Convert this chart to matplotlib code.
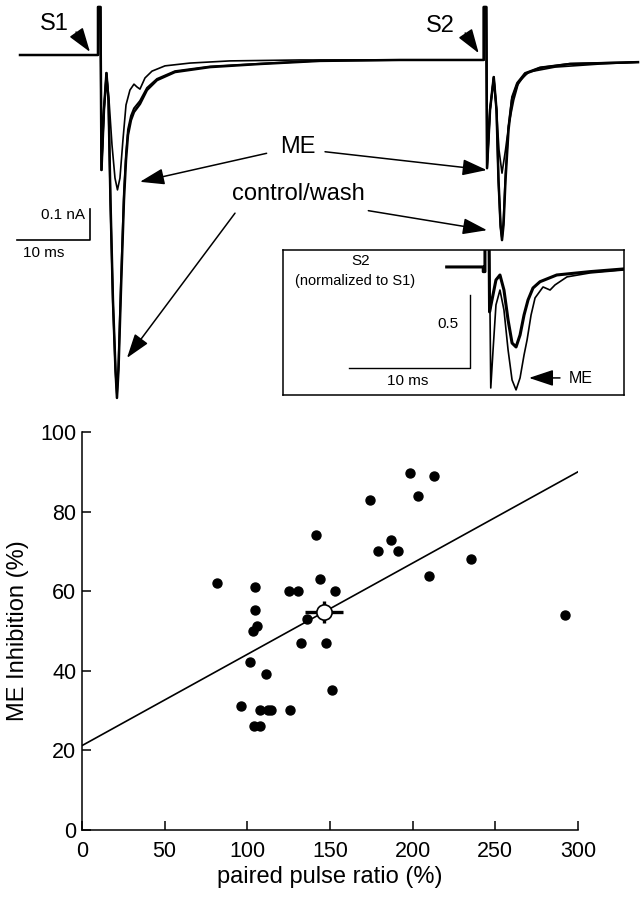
import numpy as np
import matplotlib.pyplot as plt

plt.rcParams['font.family'] = ['Liberation Sans', 'DejaVu Sans']

# ---- scatter: ME inhibition vs paired pulse ratio ----
ppr = [81.5, 96.4, 101.4, 103.2, 104.2, 104.7, 104.7, 105.7, 107.5, 107.7, 111.5,
       112.5, 114.5, 125.8, 125.2, 130.5, 132.5, 136.3, 141.4, 144.0, 147.4, 151.4,
       153.3, 174.0, 179.1, 186.9, 191.2, 198.2, 203.1, 210.1, 213.1, 235.3, 292.2]
inhib = [62.1, 31.2, 42.1, 50.1, 26.1, 61.1, 55.3, 51.3, 30.2, 26.1, 39.1,
         30.2, 30.2, 30.2, 60.1, 60.1, 47.1, 53.1, 74.0, 63.1, 47.1, 35.1,
         60.1, 82.9, 70.0, 72.9, 70.0, 89.8, 83.9, 63.9, 88.9, 68.0, 54.1]
mean_pt = (146.6, 54.8)
mean_err = (11.5, 2.8)
fit_x = [0, 300]
fit_y = [21.2, 90.0]

# ---- sweep traces (ms, pA), S1 at t=0, S2 at ~53 ms ----
t_me = [-10.68, 0, 0, 0.34, 0.48, 0.82, 1.16, 1.51, 1.92, 2.33, 2.67, 3.01, 3.42, 3.84,
        4.38, 4.93, 5.34, 5.75, 6.44, 7.40, 9.18, 12.60, 18.08, 27.67, 41.37, 52.84,
        52.84, 53.19, 53.29, 53.70, 54.21, 54.59, 54.93, 55.34, 55.82, 56.26, 56.95,
        57.63, 59.00, 62.60, 68.77, 73.97]
i_me = [0, 0, 155, 155, -371, -177, -58, -145, -290, -397, -435, -397, -274, -161,
        -113, -94, -103, -110, -74, -52, -35, -26, -19, -16, -16, -16,
        155, 155, -365, -177, -71, -177, -306, -381, -306, -226, -145,
        -87, -55, -39, -29, -23]
t_ctl = [-10.68, 0, 0, 0.34, 0.48, 0.82, 1.16, 1.44, 1.71, 2.05, 2.40, 2.60, 2.81, 3.15,
         3.56, 3.84, 4.11, 4.52, 4.93, 5.75, 6.71, 8.08, 10.55, 15.34, 22.19, 30.41,
         41.37, 52.84, 52.84, 53.19, 53.29, 53.70, 54.21, 54.59, 54.86, 55.14, 55.34,
         55.55, 55.82, 56.23, 56.71, 57.40, 58.49, 60.55, 64.66, 73.97]
i_ctl = [0, 0, 155, 155, -371, -177, -58, -145, -468, -790, -1016, -1106, -1016, -758,
         -468, -339, -258, -210, -184, -158, -113, -81, -55, -39, -29, -19,
         -16, -16, 155, 155, -365, -177, -71, -177, -403, -548, -597,
         -548, -403, -242, -145, -97, -61, -42, -29, -23]
t_wash = t_ctl
i_wash = [0, 0, 155, 155, -371, -177, -58, -150, -480, -800, -1020, -1095, -1000, -730,
          -440, -318, -240, -196, -172, -148, -106, -77, -52, -37, -28, -18,
          -16, -16, 155, 155, -365, -177, -71, -180, -410, -555, -590,
          -535, -385, -228, -135, -90, -58, -40, -28, -23]

# ---- inset: S2 normalized to S1 ----
tn_ctl = [-3.33, -0.31, -0.31, -0.17, -0.17, 0.17, 0.21, 0.41, 0.74, 1.07, 1.40, 1.74,
          2.07, 2.40, 2.73, 3.06, 3.39, 3.80, 4.38, 5.76, 8.51, 11.24]
yn_ctl = [0, 0, -0.032, -0.032, 0.185, 0.185, -0.308, -0.226, -0.089, -0.055, -0.158,
          -0.363, -0.521, -0.548, -0.466, -0.329, -0.226, -0.144, -0.101, -0.055,
          -0.032, -0.014]
tn_me = [-3.33, -0.31, -0.31, -0.17, -0.17, 0.19, 0.31, 0.50, 0.74, 1.07, 1.40, 1.74,
         2.07, 2.40, 2.73, 3.06, 3.31, 3.64, 3.97, 4.63, 5.21, 5.62, 6.61, 8.51, 11.24]
yn_me = [0, 0, -0.032, -0.032, 0.185, 0.185, -0.829, -0.568, -0.260, -0.158, -0.295,
         -0.568, -0.774, -0.842, -0.760, -0.603, -0.500, -0.329, -0.212, -0.137,
         -0.158, -0.123, -0.068, -0.041, -0.021]

fig = plt.figure(figsize=(6.44, 9.0), dpi=100)

arrow = dict(arrowstyle='-|>,head_length=1.5,head_width=0.5', mutation_scale=10,
             lw=1.1, color='black', shrinkA=0, shrinkB=0)

# traces panel
ax_tr = fig.add_axes([0, 0.5444, 1, 0.4556])
ax_tr.set_xlim(-13.42, 74.79)
ax_tr.set_ylim(-1145, 177.4)
ax_tr.axis('off')
ax_tr.plot(t_ctl, i_ctl, color='black', lw=1.8)
ax_tr.plot(t_wash, i_wash, color='black', lw=1.4)
ax_tr.plot(t_me, i_me, color='black', lw=1.2)

ax_tr.text(-6.03, 99, 'S1', fontsize=17, ha='center', va='center')
ax_tr.annotate('', xy=(-1.10, 10), xytext=(-3.0, 74), arrowprops=arrow)
ax_tr.text(46.94, 93, 'S2', fontsize=17, ha='center', va='center')
ax_tr.annotate('', xy=(52.15, 6), xytext=(50.3, 71), arrowprops=arrow)

ax_tr.text(27.33, -297, 'ME', fontsize=17, ha='center', va='center')
ax_tr.annotate('', xy=(5.75, -409), xytext=(23.1, -317), arrowprops=arrow)
ax_tr.annotate('', xy=(53.25, -371), xytext=(31.1, -312), arrowprops=arrow)
ax_tr.text(27.4, -448, 'control/wash', fontsize=17, ha='center', va='center')
ax_tr.annotate('', xy=(3.97, -977), xytext=(18.77, -510), arrowprops=arrow)
ax_tr.annotate('', xy=(53.29, -565), xytext=(37.03, -502), arrowprops=arrow)

# scale bar 0.1 nA / 10 ms
ax_tr.plot([-11.10, -1.10, -1.10], [-597, -597, -497], color='black', lw=1.2)
ax_tr.text(-1.78, -516, '0.1 nA', fontsize=11, ha='right', va='center')
ax_tr.text(-7.42, -639, '10 ms', fontsize=11, ha='center', va='center')

# inset
ax_in = fig.add_axes([0.4394, 0.5611, 0.5303, 0.1611])
ax_in.set_xlim(-16.86, 11.36)
ax_in.set_ylim(-0.877, 0.116)
ax_in.set_xticks([])
ax_in.set_yticks([])
for s in ax_in.spines.values():
    s.set_linewidth(1.1)
ax_in.plot(tn_ctl, yn_ctl, color='black', lw=2.2)
ax_in.plot(tn_me, yn_me, color='black', lw=1.2)
ax_in.plot([-11.40, -1.40, -1.40], [-0.692, -0.692, -0.192], color='black', lw=1.0)
ax_in.text(-2.34, -0.39, '0.5', fontsize=11, ha='right', va='center')
ax_in.text(-6.53, -0.781, '10 ms', fontsize=11, ha='center', va='center')
ax_in.text(-10.4, 0.041, 'S2', fontsize=11, ha='center', va='center')
ax_in.text(-10.87, -0.096, '(normalized to S1)', fontsize=10.5, ha='center', va='center')
ax_in.annotate('', xy=(3.47, -0.76), xytext=(6.03, -0.76), arrowprops=arrow)
ax_in.text(6.75, -0.762, 'ME', fontsize=11.5, ha='left', va='center')

# scatter panel
ax = fig.add_axes([0.1273, 0.0778, 0.7702, 0.4422])
ax.plot(fit_x, fit_y, color='black', lw=1.2, zorder=2)
ax.scatter(ppr, inhib, s=42, color='black', zorder=3)
ax.errorbar(mean_pt[0], mean_pt[1], xerr=mean_err[0], yerr=mean_err[1], fmt='o',
            mfc='white', mec='black', ms=11, mew=1.2, ecolor='black',
            elinewidth=2.4, capsize=0, zorder=4)
ax.set_xlim(0, 300)
ax.set_ylim(0, 100)
ax.set_xticks([0, 50, 100, 150, 200, 250, 300])
ax.set_yticks([0, 20, 40, 60, 80, 100])
ax.spines['top'].set_visible(False)
ax.spines['right'].set_visible(False)
ax.spines['left'].set_linewidth(1.1)
ax.spines['bottom'].set_linewidth(1.1)
ax.tick_params(direction='in', length=6.5, width=1.1, labelsize=15.5)
ax.tick_params(axis='x', pad=8)
ax.tick_params(axis='y', pad=4)
ax.set_xlabel('paired pulse ratio (%)', fontsize=17, labelpad=3)
ax.set_ylabel('ME Inhibition (%)', fontsize=17, labelpad=8)

fig.savefig('out.png', dpi=100)
